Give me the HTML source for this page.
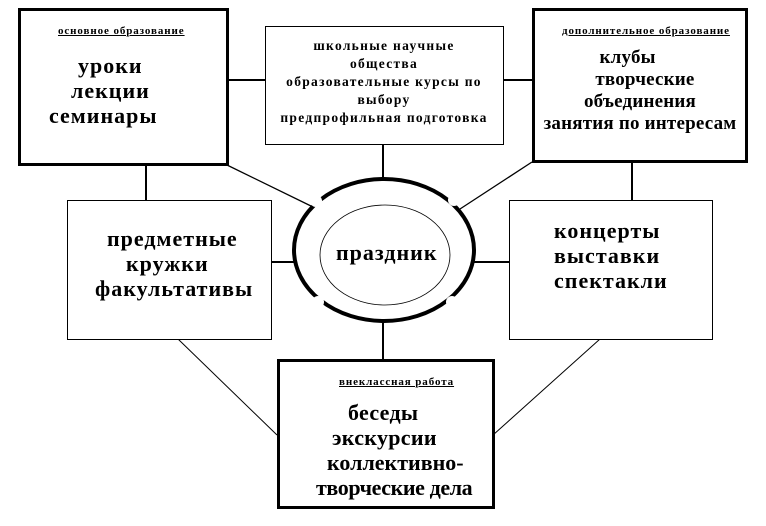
<!DOCTYPE html>
<html><head><meta charset="utf-8"><style>
body{margin:0;background:#fff;width:766px;height:526px;overflow:hidden;font-family:"Liberation Serif",serif;}
svg{position:absolute;left:0;top:0}
.t{position:absolute;font-weight:bold;color:#000;white-space:nowrap}
.big{font-size:22px;line-height:25px;letter-spacing:1px}
.lab{font-size:11px;text-decoration:underline;letter-spacing:0.9px}
.mid{font-size:13.5px;line-height:18px;letter-spacing:1.3px;text-align:center}
</style></head><body>
<svg width="766" height="526">
<g stroke="#000" fill="none">
<line x1="227" y1="80" x2="265" y2="80" stroke-width="2"/>
<line x1="503" y1="80" x2="532" y2="80" stroke-width="2"/>
<line x1="383" y1="144" x2="383" y2="180" stroke-width="2"/>
<line x1="146" y1="165" x2="146" y2="200" stroke-width="2"/>
<line x1="632" y1="162" x2="632" y2="200" stroke-width="2"/>
<line x1="227" y1="165" x2="313" y2="207" stroke-width="1.3"/>
<line x1="532" y1="162" x2="460" y2="209" stroke-width="1.3"/>
<line x1="271" y1="262" x2="295" y2="262" stroke-width="2"/>
<line x1="474" y1="262" x2="509" y2="262" stroke-width="2"/>
<line x1="383" y1="320" x2="383" y2="359" stroke-width="2"/>
<line x1="178" y1="339" x2="277" y2="435" stroke-width="1"/>
<line x1="600" y1="339" x2="493" y2="435" stroke-width="1"/>
<ellipse cx="384" cy="250" rx="90" ry="71" stroke-width="4"/>
</g>
<g fill="#fff">
<circle cx="316" cy="201" r="6"/>
<circle cx="454" cy="200" r="6"/>
<circle cx="318" cy="302" r="6"/>
<circle cx="452" cy="302" r="6"/>
</g>
<ellipse cx="385" cy="255" rx="65" ry="50" stroke="#000" stroke-width="0.8" fill="none"/>
<g stroke="#000" fill="#fff">
<rect x="19.5" y="9.5" width="208" height="155" stroke-width="3"/>
<rect x="265.5" y="26.5" width="238" height="118" stroke-width="1"/>
<rect x="533.5" y="9.5" width="213" height="152" stroke-width="3"/>
<rect x="67.5" y="200.5" width="204" height="139" stroke-width="1"/>
<rect x="509.5" y="200.5" width="203" height="139" stroke-width="1"/>
<rect x="278.5" y="360.5" width="215" height="147" stroke-width="3"/>
</g>
</svg>
<div class="t lab" style="left:58px;top:25px">основное образование</div>
<div class="t big" style="left:78px;top:53px">уроки</div>
<div class="t big" style="left:71px;top:78px">лекции</div>
<div class="t big" style="left:49px;top:103px">семинары</div>
<div class="t mid" style="left:266px;top:37px;width:236px">школьные научные<br>общества<br>образовательные курсы по<br>выбору<br>предпрофильная подготовка</div>
<div class="t lab" style="left:562px;top:25px">дополнительное образование</div>
<div class="t big" style="left:532px;top:47px;width:216px;text-align:center;font-size:19px;line-height:22px;letter-spacing:0.2px">клубы&nbsp;&nbsp;&nbsp;&nbsp;&nbsp;<br>&nbsp;&nbsp;творческие<br>объединения<br>занятия по интересам</div>
<div class="t big" style="left:107px;top:226px">предметные</div>
<div class="t big" style="left:126px;top:251px">кружки</div>
<div class="t big" style="left:95px;top:276px">факультативы</div>
<div class="t big" style="left:554px;top:218px">концерты</div>
<div class="t big" style="left:554px;top:243px">выставки</div>
<div class="t big" style="left:554px;top:268px">спектакли</div>
<div class="t big" style="left:336px;top:240px">праздник</div>
<div class="t lab" style="left:339px;top:376px">внеклассная работа</div>
<div class="t big" style="left:348px;top:400px;letter-spacing:0.3px">беседы</div>
<div class="t big" style="left:332px;top:425px;letter-spacing:0.3px">экскурсии</div>
<div class="t big" style="left:327px;top:450px;letter-spacing:0px">коллективно-</div>
<div class="t big" style="left:316px;top:475px;letter-spacing:-0.4px">творческие дела</div>
</body></html>
